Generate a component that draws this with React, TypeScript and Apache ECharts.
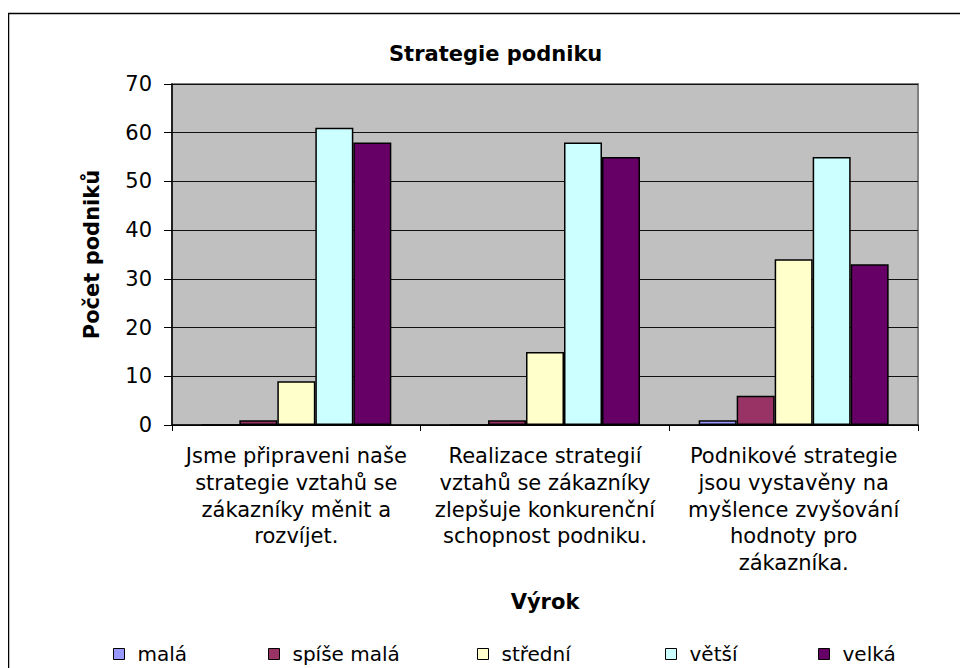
import React, { useEffect, useRef } from "react";
import * as echarts from "echarts";

const categories = [
  "Jsme připraveni naše\nstrategie vztahů se\nzákazníky měnit a\nrozvíjet.",
  "Realizace strategií\nvztahů se zákazníky\nzlepšuje konkurenční\nschopnost podniku.",
  "Podnikové strategie\njsou vystavěny na\nmyšlence zvyšování\nhodnoty pro\nzákazníka.",
];
const seriesNames = ["malá", "spíše malá", "střední", "větší", "velká"];
const mala = [0, 0, 1];
const spiseMala = [1, 1, 6];
const stredni = [9, 15, 34];
const vetsi = [61, 58, 55];
const velka = [58, 55, 33];
const seriesValues = [mala, spiseMala, stredni, vetsi, velka];
const colors = ["#9999FF", "#993366", "#FFFFCC", "#CCFFFF", "#660066"];
const legendLefts = [100, 255, 464, 652, 805];

const FONT = "DejaVu Sans";

export default function App() {
  const ref = useRef<HTMLDivElement>(null);
  useEffect(() => {
    if (!ref.current) return;
    const chart = echarts.init(ref.current, undefined, { renderer: "svg" });
    chart.setOption({
      animation: false,
      backgroundColor: "#ffffff",
      textStyle: { fontFamily: FONT },
      title: {
        text: "Strategie podniku",
        left: 376,
        top: 30,
        textStyle: { fontFamily: FONT, fontWeight: "bold", fontSize: 21, color: "#000" },
      },
      graphic: [
        {
          type: "rect",
          shape: { x: 0.5, y: 5.5, width: 1000, height: 1000 },
          style: { fill: "none", stroke: "#000", lineWidth: 1.5 },
          silent: true,
          z: 100,
        },
      ],
      legend: seriesNames.map((n, i) => ({
        data: [n],
        left: legendLefts[i],
        top: 631,
        itemWidth: 11,
        itemHeight: 11,
        icon: "rect",
        itemStyle: { borderColor: "#000", borderWidth: 1 },
        textStyle: { fontFamily: FONT, fontSize: 20, color: "#000", padding: [0, 0, 0, 8] },
        selectedMode: false,
      })),
      grid: {
        left: 164,
        top: 76,
        right: 50,
        bottom: 243,
        show: true,
        backgroundColor: "#C0C0C0",
        borderColor: "#808080",
        borderWidth: 2,
      },
      xAxis: {
        type: "category",
        data: categories,
        name: "Výrok",
        nameLocation: "middle",
        nameGap: 166,
        nameTextStyle: { fontFamily: FONT, fontWeight: "bold", fontSize: 21, color: "#000" },
        axisLine: { lineStyle: { color: "#000", width: 1.5 } },
        axisTick: { show: true, length: 6, lineStyle: { color: "#000" } },
        axisLabel: {
          interval: 0,
          margin: 18,
          fontFamily: FONT,
          fontSize: 21,
          lineHeight: 26.7,
          color: "#000",
          align: "center",
        },
      },
      yAxis: {
        type: "value",
        min: 0,
        max: 70,
        interval: 10,
        name: "Počet podniků",
        nameLocation: "middle",
        nameGap: 70,
        nameTextStyle: { fontFamily: FONT, fontWeight: "bold", fontSize: 21, color: "#000" },
        axisLine: { show: true, lineStyle: { color: "#000", width: 1.5 } },
        axisTick: { show: true, length: 8, lineStyle: { color: "#000" } },
        axisLabel: { margin: 20, fontFamily: FONT, fontSize: 21, color: "#000" },
        splitLine: { show: true, lineStyle: { color: "#111", width: 1 } },
      },
      series: seriesNames.map((n, i) => ({
        name: n,
        type: "bar",
        data: seriesValues[i],
        barGap: "0%",
        barCategoryGap: "23.6%",
        itemStyle: { color: colors[i], borderColor: "#000", borderWidth: 1.5 },
      })),
    });
    return () => chart.dispose();
  }, []);
  return <div ref={ref} style={{ width: 960, height: 660 }} />;
}
